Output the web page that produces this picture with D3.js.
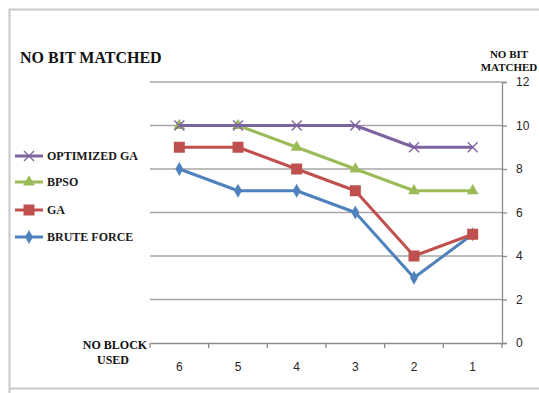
<!DOCTYPE html>
<html><head><meta charset="utf-8">
<script src="https://cdn.jsdelivr.net/npm/d3@7"></script>
<style>body{margin:0;background:#fff}svg{display:block}</style>
</head><body>
<script>
const categories = ["6","5","4","3","2","1"];
const optimizedGA = [10,10,10,10,9,9];
const bpso = [10,10,9,8,7,7];
const ga = [9,9,8,7,4,5];
const bruteForce = [8,7,7,6,3,5];
const yTicks = [0,2,4,6,8,10,12];
const seriesNames = ["OPTIMIZED GA","BPSO","GA","BRUTE FORCE"];

const series = [
  {name: seriesNames[0], values: optimizedGA, color: "#7e63a1", marker: "x"},
  {name: seriesNames[1], values: bpso, color: "#9bbb59", marker: "tri"},
  {name: seriesNames[2], values: ga, color: "#c0504d", marker: "sq"},
  {name: seriesNames[3], values: bruteForce, color: "#4f81bd", marker: "dia"}
];

const W = 539, H = 393;
const svg = d3.select("body").append("svg").attr("width", W).attr("height", H);
const serif = "'Liberation Serif','Times New Roman',serif";
const sans = "'Liberation Sans',Arial,sans-serif";

// frame
svg.append("path").attr("d", `M9.5,${H} L9.5,9.5 L${W},9.5`).attr("fill","none").attr("stroke","#c8c8c8").attr("stroke-width",2);
svg.append("line").attr("x1",9).attr("x2",W).attr("y1",388.5).attr("y2",388.5).attr("stroke","#c8c8c8").attr("stroke-width",2);

const x0 = 150, x1 = 502;
const x = d3.scaleBand().domain(categories).range([x0, x1]);
const y = d3.scaleLinear().domain([0, 12]).range([343, 82]);

// gridlines
svg.append("g").selectAll("line").data(yTicks.filter(d => d > 0)).join("line")
  .attr("x1", x0).attr("x2", x1).attr("y1", d => y(d)).attr("y2", d => y(d))
  .attr("stroke", "#a6a6a6").attr("stroke-width", 1.3);

// right axis
const yAxis = d3.axisRight(y).tickValues(yTicks).tickSize(5).tickPadding(9);
const ga_ = svg.append("g").attr("transform", `translate(${x1},0)`).call(yAxis);
ga_.select(".domain").attr("stroke", "#8c8c8c").attr("stroke-width", 1.3);
ga_.selectAll(".tick line").attr("stroke", "#8c8c8c").attr("stroke-width", 1.3);
ga_.selectAll(".tick text").attr("font-family", sans).attr("font-size", 12).attr("fill", "#262626");

// bottom axis
const xAxis = d3.axisBottom(x).tickSize(0).tickPadding(19);
const gx = svg.append("g").attr("transform", `translate(0,${y(0)})`).call(xAxis);
gx.select(".domain").attr("stroke", "#8c8c8c").attr("stroke-width", 1.3);
gx.selectAll(".tick text").attr("font-family", sans).attr("font-size", 12).attr("fill", "#262626");
// category boundary ticks
const bounds = categories.map(c => x(c)).concat([x1]);
svg.append("g").selectAll("line").data(bounds).join("line")
  .attr("x1", d => d).attr("x2", d => d).attr("y1", y(0)).attr("y2", y(0) + 5)
  .attr("stroke", "#8c8c8c").attr("stroke-width", 1.3);

const cx = c => x(c) + x.bandwidth() / 2;

function drawMarker(g, type, px, py, color) {
  if (type === "x") {
    const s = 5;
    g.append("path").attr("d", `M${px-s},${py-s}L${px+s},${py+s}M${px-s},${py+s}L${px+s},${py-s}`)
      .attr("stroke", color).attr("stroke-width", 1.3).attr("fill", "none");
  } else if (type === "tri") {
    g.append("path").attr("d", d3.symbol(d3.symbolTriangle, 60)()).attr("transform", `translate(${px},${py})`).attr("fill", color);
  } else if (type === "sq") {
    g.append("rect").attr("x", px - 5.5).attr("y", py - 5.5).attr("width", 11).attr("height", 11).attr("fill", color);
  } else if (type === "dia") {
    g.append("path").attr("d", d3.symbol(d3.symbolDiamond, 55)()).attr("transform", `translate(${px},${py})`).attr("fill", color);
  }
}

const line = d3.line().x((d, i) => cx(categories[i])).y(d => y(d));
[...series].reverse().forEach(s => {
  const g = svg.append("g");
  g.append("path").attr("d", line(s.values)).attr("fill", "none").attr("stroke", s.color).attr("stroke-width", 3).attr("stroke-linejoin","round");
  s.values.forEach((v, i) => drawMarker(g, s.marker, cx(categories[i]), y(v), s.color));
});

// legend
const legY = [156, 182, 210, 237];
series.forEach((s, i) => {
  const g = svg.append("g");
  g.append("line").attr("x1", 15).attr("x2", 43).attr("y1", legY[i]).attr("y2", legY[i]).attr("stroke", s.color).attr("stroke-width", 3);
  drawMarker(g, s.marker, 29, legY[i], s.color);
  g.append("text").attr("x", 47).attr("y", legY[i]).attr("dy", "0.35em")
    .attr("font-family", serif).attr("font-weight", "bold").attr("font-size", 12).attr("fill", "#1a1a1a").text(s.name);
});

// titles
svg.append("text").attr("x", 20).attr("y", 63).attr("font-family", serif).attr("font-weight", "bold")
  .attr("font-size", 16).attr("fill", "#111").text("NO BIT MATCHED");
const yt = svg.append("text").attr("font-family", serif).attr("font-weight", "bold").attr("font-size", 11).attr("fill", "#111").attr("text-anchor", "middle");
yt.append("tspan").attr("x", 509).attr("y", 58).text("NO BIT");
yt.append("tspan").attr("x", 509).attr("y", 71).text("MATCHED");
const xt = svg.append("text").attr("font-family", serif).attr("font-weight", "bold").attr("font-size", 12).attr("fill", "#111").attr("text-anchor", "middle");
xt.append("tspan").attr("x", 115).attr("y", 349).text("NO BLOCK");
xt.append("tspan").attr("x", 113).attr("y", 364).text("USED");
</script>
</body></html>
